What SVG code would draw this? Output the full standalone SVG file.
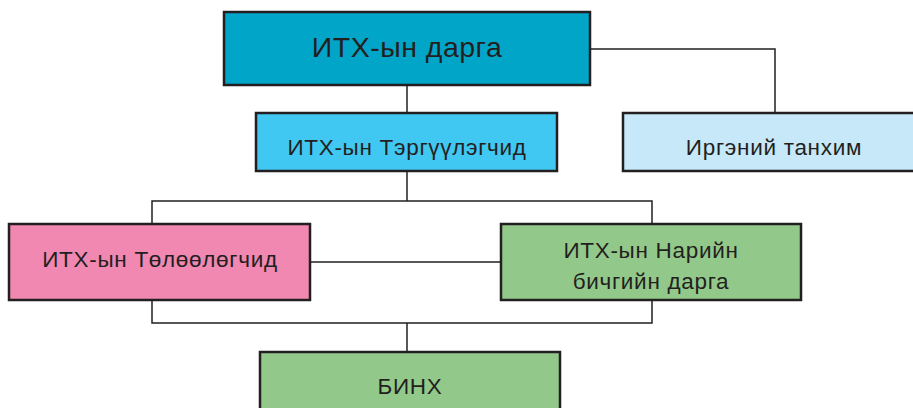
<svg xmlns="http://www.w3.org/2000/svg" width="913" height="408" viewBox="0 0 913 408">
<style>
.box{stroke:#231f20;stroke-width:2.5}
.t{font-family:"Liberation Sans",Arial,sans-serif;fill:#231f20;text-anchor:middle;font-size:22.5px;letter-spacing:0.7px}
.c{fill:none;stroke:#231f20;stroke-width:1.5}
</style>
<rect width="913" height="408" fill="#ffffff"/>
<g id="connectors">
<path class="c" d="M407 85V113"/>
<path class="c" d="M590 49H775V113"/>
<path class="c" d="M407 171V201"/>
<path class="c" d="M152 224V201H652V224"/>
<path class="c" d="M310 262H501"/>
<path class="c" d="M152 300V323H652V300"/>
<path class="c" d="M407 323V352"/>
</g>
<g id="n-darga">
<rect class="box" x="224" y="12" width="366" height="73" fill="#00a5c8"/>
<text class="t" x="407" y="57" style="font-size:28.5px;letter-spacing:0.5px">ИТХ-ын дарга</text>
</g>
<g id="n-terguulegchid">
<rect class="box" x="256" y="113" width="301" height="58" fill="#40c8f2"/>
<text class="t" x="407" y="155">ИТХ-ын Тэргүүлэгчид</text>
</g>
<g id="n-irgenii">
<rect class="box" x="623" y="113" width="300" height="58" fill="#c6e8f8"/>
<text class="t" x="774" y="155">Иргэний танхим</text>
</g>
<g id="n-teleelegchid">
<rect class="box" x="9" y="224" width="301" height="76" fill="#f088b2"/>
<text class="t" x="160" y="267">ИТХ-ын Төлөөлөгчид</text>
</g>
<g id="n-nariin">
<rect class="box" x="501" y="224" width="300" height="76" fill="#92c98a"/>
<text class="t" x="651" y="258">ИТХ-ын Нарийн</text>
<text class="t" x="651" y="289">бичгийн дарга</text>
</g>
<g id="n-binh">
<rect class="box" x="260" y="352" width="300" height="70" fill="#92c98a"/>
<text class="t" x="410" y="394">БИНХ</text>
</g>
</svg>
